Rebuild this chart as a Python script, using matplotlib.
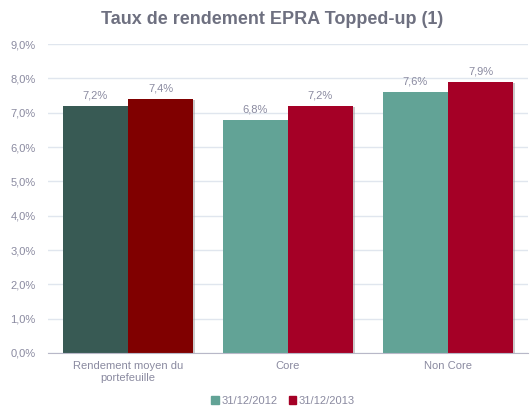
import numpy as np
import matplotlib.pyplot as plt
import matplotlib.patheffects as pe
from matplotlib.patches import Patch

categories = ['Rendement moyen du\nportefeuille', 'Core', 'Non Core']
series = ['31/12/2012', '31/12/2013']
vals_2012 = [7.2, 6.8, 7.6]
vals_2013 = [7.4, 7.2, 7.9]
labels_2012 = ['7,2%', '6,8%', '7,6%']
labels_2013 = ['7,4%', '7,2%', '7,9%']

c2012 = ['#385A54', '#62A396', '#62A396']
c2013 = ['#800000', '#A50026', '#A50026']
grey = '#8A8AA0'

plt.rcParams['font.family'] = ['Liberation Sans', 'DejaVu Sans']

fig = plt.figure(figsize=(5.31, 4.07), dpi=100)
ax = fig.add_axes([48 / 531, 1 - 353 / 407, 480 / 531, 309 / 407])

x = np.arange(len(categories))
w = 0.406
shadow = [pe.SimplePatchShadow(offset=(1.5, -1), shadow_rgbFace='#999999', alpha=0.5), pe.Normal()]
b1 = ax.bar(x - w / 2, vals_2012, w, color=c2012, zorder=3, path_effects=shadow)
b2 = ax.bar(x + w / 2, vals_2013, w, color=c2013, zorder=3, path_effects=shadow)

for bars, labs in [(b1, labels_2012), (b2, labels_2013)]:
    for b, t in zip(bars, labs):
        ax.text(b.get_x() + b.get_width() / 2, b.get_height() + 0.15, t,
                ha='center', va='bottom', fontsize=8, color=grey)

ax.set_xlim(-0.5, 2.5)
ax.set_ylim(0, 9)
ax.set_yticks(np.arange(0, 10, 1))
ax.set_yticklabels([f'{v},0%' for v in range(10)])
ax.set_xticks(x)
ax.set_xticklabels(categories, fontsize=8, color=grey)
ax.tick_params(axis='y', labelsize=8, labelcolor=grey, length=0, pad=9)
ax.tick_params(axis='x', length=0, pad=6)
ax.grid(axis='y', color='#E0E6EE', linewidth=1, zorder=0)
for s in ['top', 'right', 'left']:
    ax.spines[s].set_visible(False)
ax.spines['bottom'].set_color('#B8B8C8')
ax.spines['bottom'].set_zorder(4)

fig.text(272 / 531, 1 - 20 / 407, 'Taux de rendement EPRA Topped-up (1)', ha='center', va='center',
         fontsize=13, fontweight='bold', color='#6E7080')

handles = [Patch(color='#62A396', label=series[0]), Patch(color='#A50026', label=series[1])]
fig.legend(handles=handles, loc='center', bbox_to_anchor=(283 / 531, 1 - 401 / 407), ncol=2,
           frameon=False, fontsize=8, labelcolor=grey, handlelength=0.7, handleheight=0.7,
           handletextpad=0.2, columnspacing=1.0)

fig.savefig('out.png', dpi=100)
